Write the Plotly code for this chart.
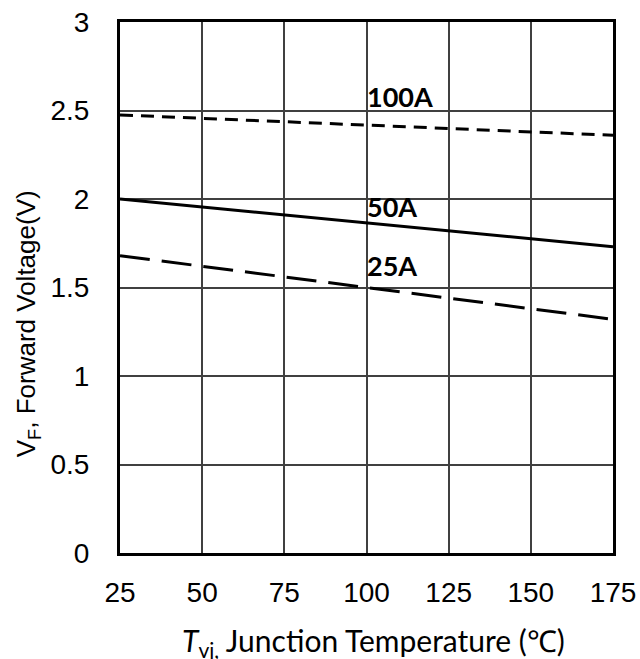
import plotly.graph_objects as go

temps = [25, 175]
vf_100a = [2.475, 2.36]
vf_50a = [2.00, 1.73]
vf_25a = [1.68, 1.32]

label_text = ["100A", "50A", "25A"]
label_x = [100, 100, 100]
label_y = [2.58, 1.955, 1.625]

x_ticks = [25, 50, 75, 100, 125, 150, 175]
y_ticks = [0, 0.5, 1, 1.5, 2, 2.5, 3]
y_ticktext = ["0", "0.5", "1", "1.5", "2", "2.5", "3"]

fig = go.Figure()
fig.add_trace(go.Scatter(x=temps, y=vf_100a, mode="lines",
                         line=dict(color="black", width=3, dash="13px,8px"), showlegend=False))
fig.add_trace(go.Scatter(x=temps, y=vf_50a, mode="lines",
                         line=dict(color="black", width=3), showlegend=False))
fig.add_trace(go.Scatter(x=temps, y=vf_25a, mode="lines",
                         line=dict(color="black", width=3, dash="30px,12px"), showlegend=False))

for t, x, y in zip(label_text, label_x, label_y):
    fig.add_annotation(x=x, y=y, text="<b>%s</b>" % t, showarrow=False,
                       xanchor="left", yanchor="middle", xshift=-2,
                       font=dict(family="Lato, Open Sans, sans-serif", size=27, color="black"))

# axis titles
fig.add_annotation(xref="paper", yref="paper", x=0.515, y=-0.167,
                   text="<i>T</i><sub>vj,</sub> Junction Temperature (℃)", showarrow=False,
                   xanchor="center", yanchor="middle",
                   font=dict(family="Lato, Open Sans, sans-serif", size=30, color="black"))
fig.add_annotation(xref="paper", yref="y", x=-0.186, y=1.294,
                   text="V<sub>F</sub>, Forward Voltage(V)", showarrow=False, textangle=-90,
                   xanchor="center", yanchor="middle",
                   font=dict(family="Liberation Sans, Arial, sans-serif", size=26, color="black"))

fig.update_layout(
    width=640, height=659,
    margin=dict(l=120, r=27, t=22, b=106),
    plot_bgcolor="white", paper_bgcolor="white",
    font=dict(family="Liberation Sans, Arial, sans-serif", size=28, color="black"),
)
fig.update_xaxes(
    range=[25, 175], tickvals=x_ticks, ticktext=[str(v) for v in x_ticks],
    tickfont=dict(family="Liberation Sans, Arial, sans-serif", size=28, color="black"),
    showgrid=True, gridcolor="#404040", gridwidth=1.5,
    showline=True, linecolor="black", linewidth=3, mirror=True,
    zeroline=False, ticks="", ticklabelstandoff=12, automargin=False,
    ticklabeloverflow="allow",
)
fig.update_yaxes(
    range=[0, 3], tickvals=y_ticks, ticktext=y_ticktext,
    tickfont=dict(family="Liberation Sans, Arial, sans-serif", size=28, color="black"),
    showgrid=True, gridcolor="#404040", gridwidth=1.5,
    showline=True, linecolor="black", linewidth=3, mirror=True,
    zeroline=False, ticks="", ticklabelstandoff=22, automargin=False,
    ticklabeloverflow="allow",
)

fig.write_html("out.html", config={"displayModeBar": False},
               post_script="document.body.style.margin='0';document.body.style.overflow='hidden';")
